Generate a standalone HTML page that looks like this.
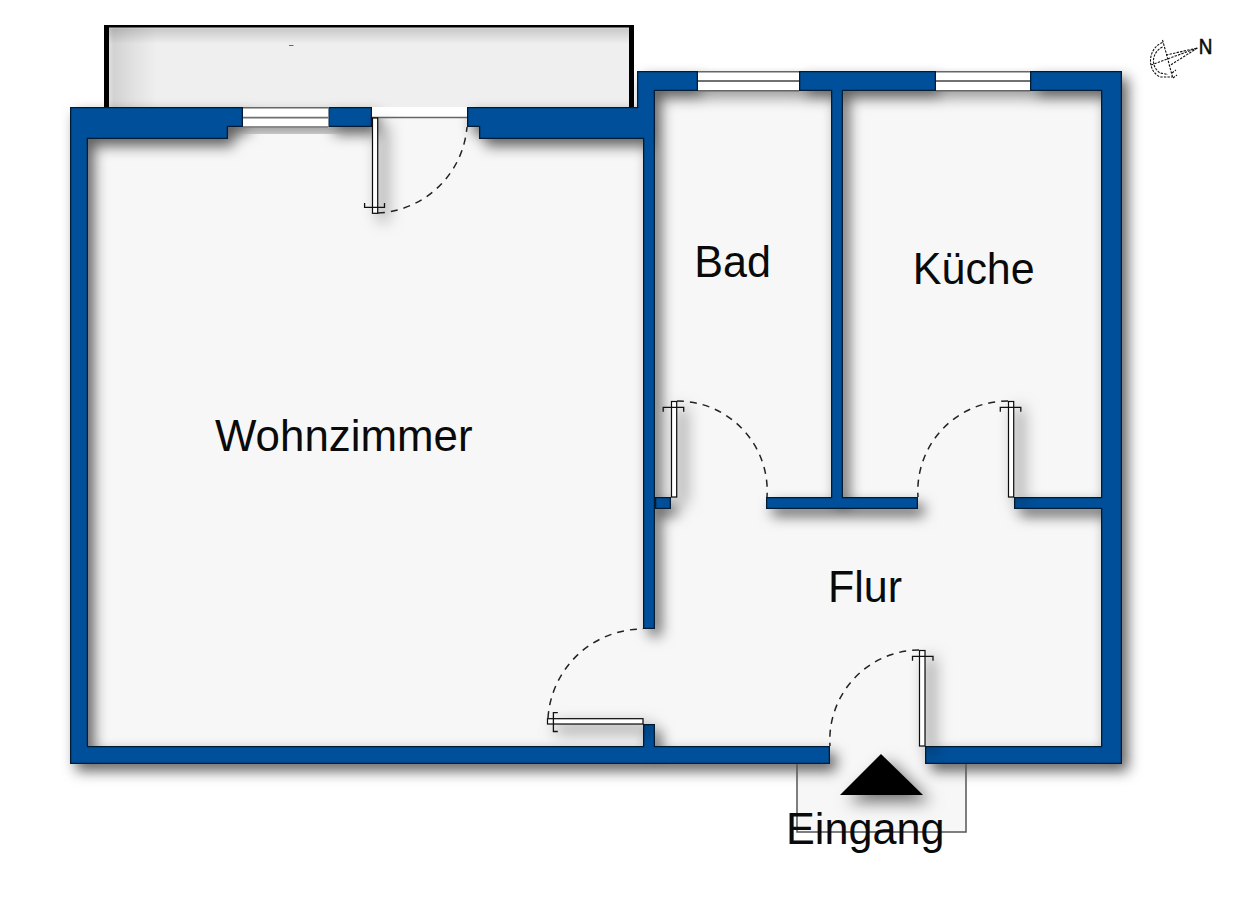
<!DOCTYPE html>
<html><head><meta charset="utf-8">
<style>
html,body{margin:0;padding:0;background:#fff;width:1233px;height:908px;overflow:hidden}
svg{display:block;position:absolute;left:0;top:0}
text{font-family:"Liberation Sans",sans-serif;fill:#0a0a0a}
</style></head><body>
<svg width="1233" height="908" viewBox="0 0 1233 908">
<defs>
<filter id="sh" x="-5%" y="-5%" width="115%" height="115%">
  <feDropShadow dx="6" dy="7" stdDeviation="7" flood-color="#000" flood-opacity="0.62"/>
</filter>
<filter id="sh2" x="-50%" y="-50%" width="300%" height="300%">
  <feDropShadow dx="8" dy="7" stdDeviation="8" flood-color="#000" flood-opacity="0.55"/>
</filter>
<filter id="bsh" x="-5%" y="-5%" width="115%" height="130%">
  <feDropShadow dx="6" dy="6" stdDeviation="7" flood-color="#000" flood-opacity="0.35"/>
</filter>
</defs>

<!-- balcony floor -->
<defs>
<linearGradient id="bl" x1="0" y1="0" x2="1" y2="0"><stop offset="0" stop-color="#000" stop-opacity="0.06"/><stop offset="0.1" stop-color="#000" stop-opacity="0.12"/><stop offset="0.5" stop-color="#000" stop-opacity="0.06"/><stop offset="1" stop-color="#000" stop-opacity="0"/></linearGradient>
<linearGradient id="bt" x1="0" y1="0" x2="0" y2="1"><stop offset="0" stop-color="#000" stop-opacity="0.06"/><stop offset="0.15" stop-color="#000" stop-opacity="0.15"/><stop offset="1" stop-color="#000" stop-opacity="0"/></linearGradient>
</defs>
<rect x="104" y="25" width="530" height="82" fill="#efefef"/>
<rect x="109" y="27" width="48" height="80" fill="url(#bl)"/>
<rect x="109" y="27" width="520" height="17" fill="url(#bt)"/>
<path d="M104 107 V25 H634 V107 H629 V27.5 H109 V107 Z" fill="#000"/>
<line x1="289" y1="45.5" x2="293.5" y2="45.5" stroke="#666" stroke-width="1"/>
<!-- floors -->
<rect x="70" y="107" width="585" height="657" fill="#f7f7f7"/>
<rect x="637" y="71" width="485" height="693" fill="#f7f7f7"/>
<rect x="797" y="764" width="169" height="68" fill="#f7f7f7"/>

<!-- window shadows -->
<g filter="url(#sh)" opacity="0.6">
<rect x="243" y="107" width="85.5" height="20.5" fill="#fff"/>
<rect x="698" y="71" width="101" height="20" fill="#fff"/>
<rect x="936" y="71" width="94" height="20" fill="#fff"/>
</g>
<!-- walls -->
<defs><clipPath id="cw"><path d="M70 107 H243 V127 H228 V139 H88 V746 H643 V724 H655 V746 H830 V764 H70 Z M328 107 H372 V127 H328 Z M467 107 H637 V71 H698 V91 H655 V629 H643 V139 H479 V127 H467 Z M799 71 H936 V91 H843 V497 H918 V509 H766 V497 H831 V91 H799 Z M1030 71 H1122 V764 H925 V746 H1101 V509 H1014 V497 H1101 V91 H1030 Z M655 497 H671 V509 H655 Z"/></clipPath></defs>
<g filter="url(#sh)">
<path clip-path="url(#cw)" fill="#04509a" stroke="#021a36" stroke-width="2.6" d="M70 107 H243 V127 H228 V139 H88 V746 H643 V724 H655 V746 H830 V764 H70 Z M328 107 H372 V127 H328 Z M467 107 H637 V71 H698 V91 H655 V629 H643 V139 H479 V127 H467 Z M799 71 H936 V91 H843 V497 H918 V509 H766 V497 H831 V91 H799 Z M1030 71 H1122 V764 H925 V746 H1101 V509 H1014 V497 H1101 V91 H1030 Z M655 497 H671 V509 H655 Z"/>
</g>
<!-- windows -->
<g fill="#fff">
<rect x="243" y="107" width="85.5" height="20.5"/>
<rect x="698" y="71" width="101" height="20"/>
<rect x="936" y="71" width="94" height="20"/>
</g>
<g stroke="#666" stroke-width="1.4">
<line x1="243" y1="107.8" x2="328.5" y2="107.8"/>
<line x1="698" y1="71.7" x2="799" y2="71.7"/>
<line x1="936" y1="71.7" x2="1030" y2="71.7"/>
<line x1="243" y1="127" x2="328.5" y2="127"/>
<line x1="698" y1="90.7" x2="799" y2="90.7"/>
<line x1="936" y1="90.7" x2="1030" y2="90.7"/>
</g>
<g stroke="#707070" stroke-width="1.8">
<line x1="243" y1="117.7" x2="328.5" y2="117.7"/>
<line x1="698" y1="81" x2="799" y2="81"/>
<line x1="936" y1="81" x2="1030" y2="81"/>
</g>

<!-- balcony door sill -->
<rect x="372" y="107" width="95" height="10.5" fill="#fff"/>
<line x1="372" y1="117.5" x2="467" y2="117.5" stroke="#666" stroke-width="1.5"/>

<!-- door leaves -->
<g filter="url(#sh2)" fill="#fff" stroke="#0a0a0a" stroke-width="1.2">
<rect x="372.5" y="118" width="5.2" height="95.3"/>
<rect x="671.5" y="401.5" width="5.2" height="95.5"/>
<rect x="1008.5" y="401.5" width="5.2" height="95.5"/>
<rect x="547.5" y="718.7" width="95.5" height="5.3"/>
<rect x="919.5" y="650.5" width="5.5" height="95.5"/>
</g>
<!-- T caps -->
<g fill="none" stroke="#111" stroke-width="1.3">
<path d="M364.6 203 V207.3 H384.5 V203"/>
<path d="M663.2 411.8 V407.3 H683.7 V411.8"/>
<path d="M1000.3 411.8 V407.3 H1020.8 V411.8"/>
<path d="M557.8 712.6 H553.4 V731.5 H557.8"/>
<path d="M912.5 660.8 V656.3 H933 V660.8"/>
</g>
<!-- dashed arcs -->
<g fill="none" stroke="#222" stroke-width="1.5" stroke-dasharray="7 6">
<path d="M378 213 A94 94 0 0 0 467 127"/>
<path d="M677 401 A90 90 0 0 1 767 497"/>
<path d="M1008 401 A90 90 0 0 0 918 497"/>
<path d="M548 718 A95 95 0 0 1 643 629"/>
<path d="M919 650 A90 90 0 0 0 830 746"/>
</g>

<!-- entrance -->
<path d="M797 764 V832 H966 V764" fill="none" stroke="#555" stroke-width="1.5"/>
<g filter="url(#sh2)">
<path d="M881 754 L923 795 L840 795 Z" fill="#000"/>
</g>

<!-- labels -->
<text x="215" y="451" font-size="44" textLength="257.6" lengthAdjust="spacingAndGlyphs">Wohnzimmer</text>
<text x="694.2" y="277" font-size="44" textLength="76.7" lengthAdjust="spacingAndGlyphs">Bad</text>
<text x="912.8" y="284" font-size="44" textLength="121.9" lengthAdjust="spacingAndGlyphs">Küche</text>
<text x="828" y="602" font-size="44" textLength="74" lengthAdjust="spacingAndGlyphs">Flur</text>
<text x="786" y="844" font-size="44" textLength="158.5" lengthAdjust="spacingAndGlyphs">Eingang</text>

<!-- compass -->
<g fill="none" stroke="#111" stroke-width="1.1" stroke-dasharray="2.4 1.2">
<path d="M1162.5 42.5 C1148 48 1146 70 1160 77 L1172.5 77"/>
<path d="M1162.5 47 C1152 52 1150 66 1160 73 L1168 74.5"/>
<path d="M1162.5 40 L1167 56 L1172.5 77"/>
<path d="M1151 65 L1197.5 48"/>
<path d="M1166 55 L1197.5 48 L1169 66"/>
<path d="M1172 73 L1176 70 M1173 78 L1177 75"/>
</g>
<text x="0" y="0" font-size="22.5" stroke="#0a0a0a" stroke-width="0.6" transform="translate(1198.8 53.8) scale(0.84 1)">N</text>
</svg>
</body></html>
